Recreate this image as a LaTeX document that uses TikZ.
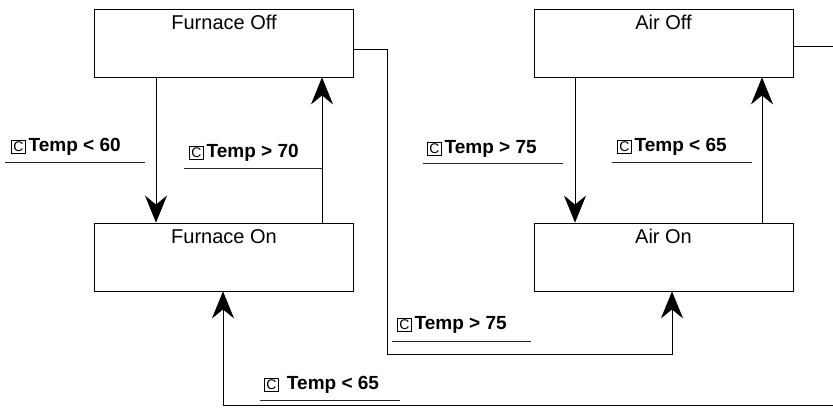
\documentclass[tikz,border=0pt]{standalone}
\usepackage{fontspec}
\setmainfont{Liberation Sans}
\usetikzlibrary{arrows.meta}
\newcommand\condbox{{\fboxsep=1.5pt\fboxrule=0.7pt\fbox{\fontsize{14}{14}\selectfont\mdseries C}}\kern3pt}
\begin{document}
\begin{tikzpicture}[x=1pt,y=-1pt,
  box/.style={draw, line width=0.8pt, minimum width=259pt, minimum height=68pt, inner sep=0pt},
  title/.style={font=\fontsize{20}{22}\selectfont, inner sep=0pt},
  cond/.style={font=\fontsize{19}{21}\selectfont\bfseries, anchor=west, inner sep=0pt},
  wire/.style={line width=0.7pt},
  flow/.style={wire, -{Stealth[length=27pt,width=22pt,inset=9pt]}},
  uline/.style={line width=0.7pt, black!85}]
\useasboundingbox (0,0) rectangle (833,408);
\fill[white] (0,0) rectangle (833,408);

% states
\node[box] (foff) at (224,43) {};
\node[box] (fon) at (224,257) {};
\node[box] (aoff) at (663.5,43) {};
\node[box] (aon) at (663.5,257) {};
\node[title] (tfoff) at ([yshift=-14pt]foff.north) {Furnace Off};
\node[title] (tfon) at ([yshift=-14pt]fon.north) {Furnace On};
\node[title] (taoff) at ([yshift=-14pt]aoff.north) {Air Off};
\node[title] (taon) at ([yshift=-14pt]aon.north) {Air On};

% helper coordinates
\coordinate (x1) at (156,0);
\coordinate (x2) at (322,0);
\coordinate (x3) at (575,0);
\coordinate (x4) at (762,0);
\coordinate (b1) at (387,49);
\coordinate (b2) at (387,354);
\coordinate (b3) at (672,354);
\coordinate (c1) at (850,46);
\coordinate (c2) at (850,405);
\coordinate (c3) at (223,405);

% vertical transitions
\draw[flow] (foff.south -| x1) -- (fon.north -| x1);
\draw[flow] (fon.north -| x2) -- (foff.south -| x2);
\draw[flow] (aoff.south -| x3) -- (aon.north -| x3);
\draw[flow] (aon.north -| x4) -- (aoff.south -| x4);

% cross transitions
\draw[flow] (foff.east |- b1) -- (b1) -- (b2) -- (b3) -- (aon.south -| b3);
\begin{scope}
\clip (0,0) rectangle (833,408);
\draw[flow] (aoff.east |- c1) -- (c1) -- (c2) -- (c3) -- (fon.south -| c3);
\end{scope}

% conditions
\node[cond] (l1) at (11,147) {\condbox Temp < 60};
\draw[uline] (5,162) -- (145,162);
\node[cond] (l2) at (189,153) {\condbox Temp > 70};
\draw[uline] (184,168) -- (322,168);
\node[cond] (l3) at (427,149) {\condbox Temp > 75};
\draw[uline] (423,163) -- (563,163);
\node[cond] (l4) at (617,147) {\condbox Temp < 65};
\draw[uline] (612,162) -- (752,162);
\node[cond] (l5) at (397,325) {\condbox Temp > 75};
\draw[uline] (392,341) -- (531,341);
\node[cond] (l6) at (264,385) {\condbox\ Temp < 65};
\draw[uline] (260,400) -- (400,400);
\end{tikzpicture}
\end{document}
